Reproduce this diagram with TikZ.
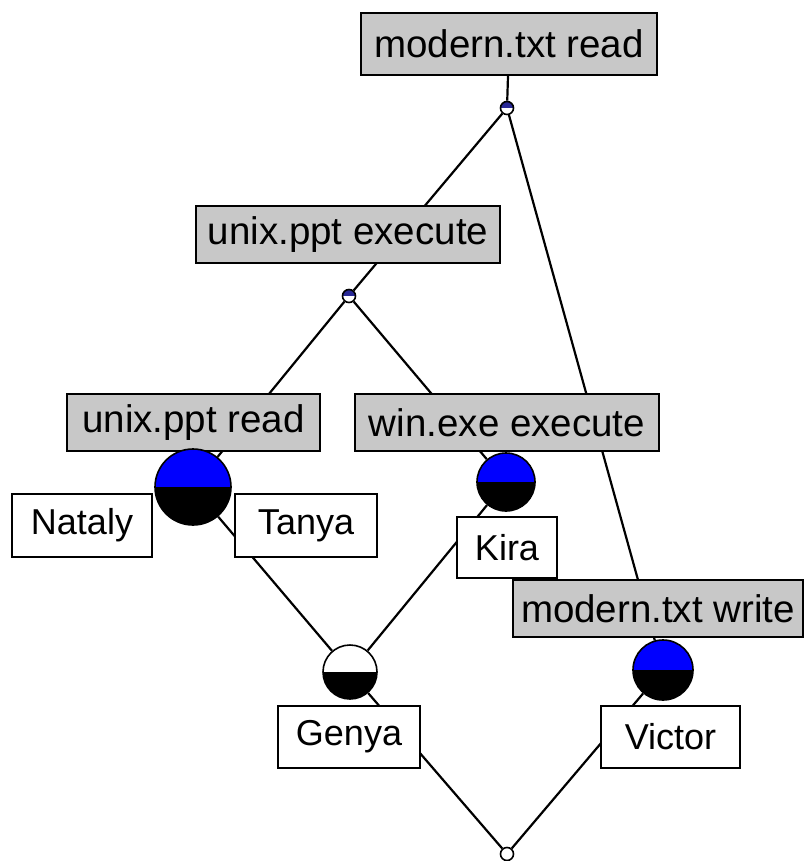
\documentclass[tikz,border=0pt]{standalone}
\usepackage{fontspec}
\setmainfont{Liberation Sans}
\pgfdeclarelayer{bg}
\pgfsetlayers{bg,main}
\definecolor{boxgrey}{RGB}{200,200,200}
\definecolor{smallblue}{RGB}{40,40,150}
\tikzset{
  lbl/.style n args={3}{draw=black, line width=1.8pt, inner sep=0pt,
    minimum width=#1, minimum height=#2, fill=#3,
    font=\fontsize{36}{40}\selectfont},
  glbl/.style n args={2}{lbl={#1}{#2}{boxgrey}, font=\fontsize{38.5}{42}\selectfont},
  ball/.style n args={3}{circle, draw=black, line width=1.6pt, inner sep=0pt,
    minimum size=#1, fill=#2,
    path picture={\fill[#3] (path picture bounding box.west) rectangle (path picture bounding box.south east);}},
  edge/.style={draw=black, line width=2.2pt}
}
\begin{document}
\begin{tikzpicture}[x=1pt,y=-1pt]
\useasboundingbox (0,0) rectangle (805,861);
% label boxes
\node[glbl={296pt}{62pt}] (mr) at (509,44) {modern.txt read};
\node[glbl={304pt}{57pt}] (ue) at (348,234.5) {unix.ppt execute};
\node[glbl={253pt}{57pt}] (ur) at (193.5,422.5) {unix.ppt read};
\node[glbl={304pt}{57pt}] (we) at (507,422.5) {win.exe execute};
\node[glbl={290pt}{57pt}] (mw) at (658,608.5) {modern.txt write};
\node[lbl={140pt}{63pt}{white}] (nataly) at (82,525.5) {Nataly};
\node[lbl={142pt}{63pt}{white}] (tanya) at (306,525.5) {Tanya};
\node[lbl={100pt}{61pt}{white}] (kira) at (507,547.5) {Kira};
\node[lbl={142pt}{62pt}{white}] (genya) at (349,737) {Genya};
\node[lbl={139pt}{62pt}{white}] (victor) at (670.5,737) {Victor};
% circles
\node[ball={13pt}{smallblue}{white}] (c1) at (507,108) {};
\node[ball={13pt}{smallblue}{white}] (c2) at (349,296) {};
\node[ball={76pt}{blue}{black}] (c3) at (193,487) {};
\node[ball={58pt}{blue}{black}] (c4) at (506,482) {};
\node[ball={54pt}{white}{black}] (c5) at (350,672) {};
\node[ball={60pt}{blue}{black}] (c6) at (663,670) {};
\node[ball={13pt}{white}{white}] (c7) at (507,854) {};
% connectors
\begin{pgfonlayer}{bg}
\draw[edge] (mr) -- (c1);
\draw[edge] (c1) -- (c2);
\draw[edge] (c1) -- (c6);
\draw[edge] (c2) -- (c3);
\draw[edge] (c2) -- (c4);
\draw[edge] (c3) -- (c5);
\draw[edge] (c4) -- (c5);
\draw[edge] (c5) -- (c7);
\draw[edge] (c6) -- (c7);
\end{pgfonlayer}
\end{tikzpicture}
\end{document}
